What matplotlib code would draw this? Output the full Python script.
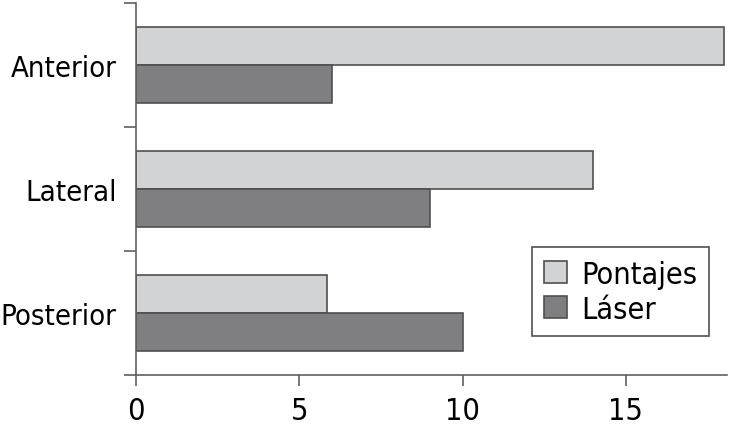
import numpy as np
import matplotlib.pyplot as plt

categories = ['Anterior', 'Lateral', 'Posterior']
pontajes = [18.0, 14.0, 5.85]
laser = [6.0, 9.0, 10.0]

plt.rcParams['font.family'] = ['Liberation Sans Narrow', 'DejaVu Sans']
plt.rcParams['font.stretch'] = 'condensed'

fig = plt.figure(figsize=(7.3, 4.27), dpi=100)
ax = fig.add_axes([136 / 730, 1 - 376 / 427, (727 - 136) / 730, (376 - 4) / 427])

y = np.arange(len(categories))
h = 0.31
ax.barh(y - h / 2, pontajes, height=h, color='#d1d3d5', edgecolor='#505050',
        linewidth=1.2, label='Pontajes')
ax.barh(y + h / 2, laser, height=h, color='#7f7f82', edgecolor='#505050',
        linewidth=1.2, label='Láser')

ax.set_xlim(0, 18.1)
ax.set_ylim(2.5, -0.5)
ax.set_yticks(y)
ax.set_yticklabels(categories)
ax.set_yticks([-0.5, 0.5, 1.5, 2.5], minor=True)
ax.tick_params(axis='y', which='major', length=0, pad=14, labelsize=21)
ax.tick_params(axis='y', which='minor', length=9, width=1.2, color='#606060')
ax.set_xticks([0, 5, 10, 15])
ax.tick_params(axis='x', length=8, width=1.2, color='#606060', labelsize=22, pad=7)

for s in ['top', 'right']:
    ax.spines[s].set_visible(False)
for s in ['left', 'bottom']:
    ax.spines[s].set_color('#606060')
    ax.spines[s].set_linewidth(1.2)

leg = ax.legend(loc='lower right', bbox_to_anchor=(0.97, 0.105), fontsize=22,
                fancybox=False, framealpha=1, edgecolor='#505050',
                handlelength=0.75, handleheight=0.75, handletextpad=0.45,
                labelspacing=0.2, borderpad=0.4, borderaxespad=0)
leg.get_frame().set_linewidth(1.2)

fig.savefig('out.png', dpi=100)
